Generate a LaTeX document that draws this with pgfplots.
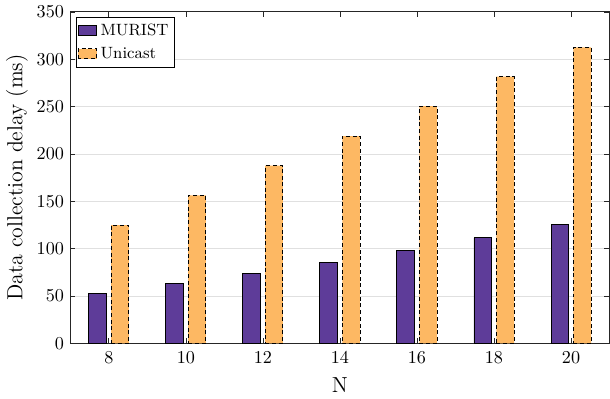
\documentclass[border=0pt]{standalone}
\usepackage{pgfplots}
\pgfplotsset{compat=1.18}
\definecolor{murist}{RGB}{94,60,153}
\definecolor{unicast}{RGB}{253,184,99}
\definecolor{axgray}{RGB}{38,38,38}
\begin{document}
\begin{tikzpicture}
\begin{axis}[
  width=297pt, height=182.6pt, scale only axis,
  xmin=7, xmax=21, ymin=0, ymax=350,
  xtick={8,10,...,20}, ytick={0,50,...,350},
  tick align=inside, xtick pos=both, ytick pos=both,
  major tick length=2.8pt,
  axis line style={axgray, line width=0.5pt},
  every tick/.style={axgray, line width=0.4pt},
  ymajorgrids, grid style={black!12, line width=0.5pt},
  xlabel={N}, ylabel={Data collection delay (ms)},
  label style={font=\large},
  ticklabel style={font=\normalsize},
  xticklabel style={yshift=-1pt},
  xlabel style={yshift=-1pt},
  ylabel style={yshift=-2pt},
  bar width=0.46,
  legend cell align=left,
  legend style={at={(0.01,0.985)}, anchor=north west, draw=black, fill=white,
    font=\small, inner xsep=1pt, inner ysep=1.5pt, row sep=1pt},
  legend image code/.code={\draw[#1] (0pt,-2.8pt) rectangle (10pt,2.8pt);},
]
\addplot[ybar, bar shift=-0.29, fill=murist, draw=black, line width=0.5pt]
  coordinates {(8,53.2) (10,63.7) (12,74.3) (14,85.9) (16,98.5) (18,111.5) (20,125.6)};
\addlegendentry{MURIST}
\addplot[ybar, bar shift=0.29, fill=unicast, draw=black, dash pattern=on 2.2pt off 1.5pt, line width=0.5pt]
  coordinates {(8,125) (10,156.3) (12,187.6) (14,218.8) (16,250.5) (18,281.7) (20,312.6)};
\addlegendentry{Unicast}
\end{axis}
\end{tikzpicture}
\end{document}
